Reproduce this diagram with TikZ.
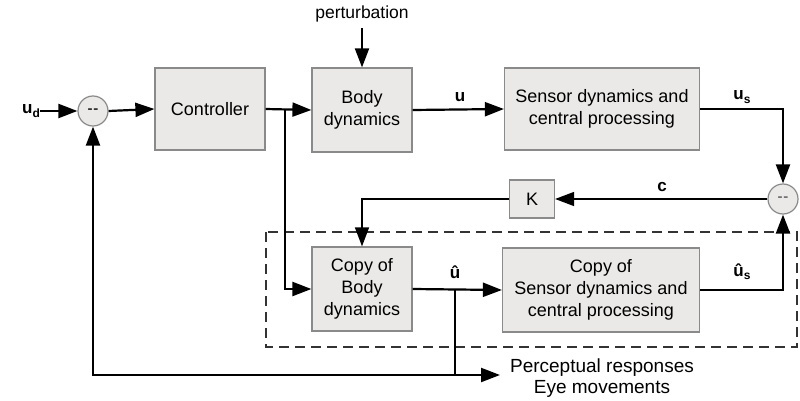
\documentclass[tikz,border=0pt]{standalone}
\usepackage{fontspec}
\setmainfont{Liberation Sans}
\usetikzlibrary{arrows.meta}
\definecolor{boxfill}{HTML}{EBE9E7}
\definecolor{boxdraw}{HTML}{8A8A8A}
\tikzset{
  txt/.style={font=\fontsize{18}{22.5}\selectfont, align=center, inner sep=0pt},
  blk/.style={txt, draw=boxdraw, fill=boxfill, line width=1.2pt, minimum width=#1},
  sumc/.style={circle, draw=boxdraw, fill=boxfill, line width=1.2pt, minimum size=30pt, inner sep=0pt, font=\fontsize{15}{15}\selectfont\bfseries},
  lbl/.style={font=\fontsize{17}{17}\selectfont\bfseries, inner sep=0pt},
  sig/.style={line width=2.2pt, -{Triangle[length=19pt,width=14pt]}},
  sigthin/.style={line width=1.4pt, -{Triangle[length=19pt,width=14pt]}},
  wire/.style={line width=2.2pt},
}
\newcommand{\sub}[1]{\raisebox{-0.35ex}{\fontsize{12}{12}\selectfont\bfseries #1}}
\newcommand{\minus}{-\kern0.6pt-}
\begin{document}
\begin{tikzpicture}[x=1pt,y=-1pt]
\useasboundingbox (0,0) rectangle (800,401);
% dashed region
\draw[line width=1.5pt, dash pattern=on 10pt off 6pt, black!80] (266,232) rectangle (797,347);
% nodes
\node[lbl] (ud) at (31,111) {u\sub{d}};
\node[sumc, text=black!80] (s1) at (93,111) {\minus};
\node[blk=110pt, minimum height=82pt] (ctrl) at (210,109) {Controller};
\node[blk=100pt, minimum height=84pt] (body) at (362,110) {Body\\dynamics};
\node[txt, font=\fontsize{17.5}{17.5}\selectfont] (pert) at (362,14) {perturbation};
\node[blk=195pt, minimum height=82pt] (sens) at (602,109) {Sensor dynamics and\\central processing};
\node[sumc, text=black!55] (s2) at (783,199) {\minus};
\node[blk=45pt, minimum height=38pt] (K) at (532,199) {K};
\node[blk=100pt, minimum height=84pt, font=\fontsize{18}{22}\selectfont] (cbody) at (362,289) {Copy of\\Body\\dynamics};
\node[blk=197pt, minimum height=84pt, font=\fontsize{18}{22}\selectfont] (csens) at (601,290) {Copy of\\Sensor dynamics and\\central processing};
\node[txt, font=\fontsize{19}{21.5}\selectfont] (pr) at (602,378) {Perceptual responses\\Eye movements};
% labels
\node[lbl] (lu) at (460,97) {u};
\node[lbl] (lus) at (742,97) {u\sub{s}};
\node[lbl] (lc) at (662,187) {c};
\node[lbl] (luh) at (455,272) {û};
\node[lbl] (lush) at (742,272) {û\sub{s}};
% coordinates
\coordinate (br) at (285,110);
\coordinate (j) at (455,290);
\coordinate (bl) at (93,375);
\coordinate (pe) at (500,375);
\coordinate (ju) at (455,375);
% connectors
\draw[sig] (ud.east) -- (s1.west);
\draw[sig] (s1.east) -- (ctrl.west);
\draw[sig] (ctrl.east) -- (body.west);
\draw[sig] (br) |- (cbody.west);
\draw[sig, line width=2pt] (pert.south) ++(0,6) -- (body.north);
\draw[sig] (body.east) -- (sens.west);
\draw[sig] (sens.east) -| (s2.north);
\draw[sigthin] (s2.west) -- (K.east);
\draw[sigthin] (K.west) -| (cbody.north);
\draw[sig] (cbody.east) -- (csens.west);
\draw[wire] (j) -- (ju);
\draw[sig] (csens.east) -| (s2.south);
\draw[sig] (bl) -- (s1.south);
\draw[sig] ([xshift=-1.1pt]bl) -- (pe);
\end{tikzpicture}
\end{document}
